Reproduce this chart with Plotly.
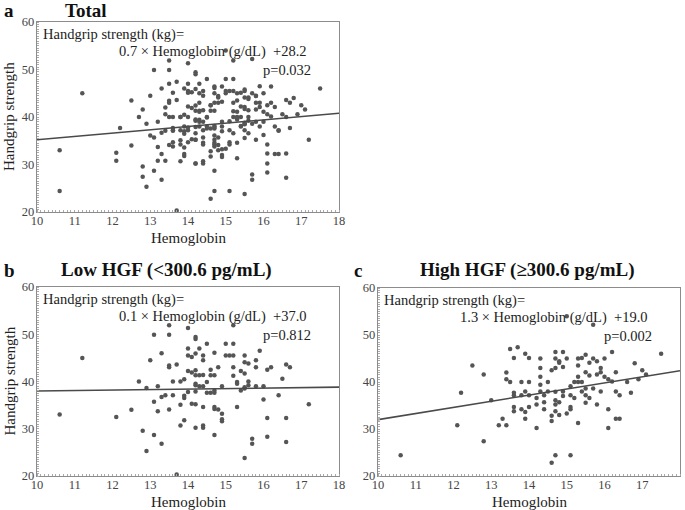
import plotly.graph_objects as go

# ---- data ----
low_hb = [10.6, 11.2, 12.1, 12.5, 12.7, 12.8, 12.9, 12.9, 13.0, 13.1, 13.1, 13.1, 13.2, 13.2,
          13.3, 13.3, 13.3, 13.4, 13.5, 13.5, 13.5, 13.5, 13.5, 13.6, 13.6, 13.7, 13.7,
          13.8, 13.8, 13.8, 13.9, 13.9, 13.9, 13.9, 14.0, 14.0, 14.0, 14.0, 14.0,
          14.1, 14.1, 14.1, 14.2, 14.2, 14.2, 14.2, 14.2, 14.2, 14.2, 14.2, 14.2, 14.2,
          14.3, 14.3, 14.3, 14.4, 14.4, 14.4, 14.4, 14.4, 14.4, 14.4, 14.5, 14.5, 14.5,
          14.6, 14.6, 14.6, 14.7, 14.7, 14.7, 14.7, 14.7, 14.7, 14.7, 14.8, 14.8,
          14.9, 14.9, 14.9, 14.9, 15.0, 15.0, 15.1, 15.2, 15.2, 15.2, 15.2, 15.2,
          15.3, 15.3, 15.3, 15.4, 15.4, 15.5, 15.5, 15.5, 15.5, 15.5, 15.5,
          15.6, 15.6, 15.6, 15.7, 15.7, 15.8, 15.8, 15.8, 15.9, 16.0, 16.0,
          16.1, 16.1, 16.1, 16.2, 16.4, 16.5, 16.6, 16.6, 16.6, 16.7, 17.2]
low_hgs = [33.0, 45.0, 32.5, 34.0, 40.0, 29.6, 38.6, 25.3, 44.5, 49.9, 35.7, 28.7, 39.0, 33.7,
           46.0, 36.7, 26.8, 37.1, 51.9, 49.9, 43.4, 43.0, 34.1, 40.0, 37.1, 43.6, 20.3,
           40.0, 35.1, 30.7, 40.5, 37.0, 36.5, 31.8, 51.3, 47.0, 45.5, 42.2, 37.8,
           41.9, 35.3, 45.2, 49.4, 49.0, 45.9, 42.4, 41.3, 39.5, 39.2, 37.9, 35.2, 30.2,
           47.0, 41.3, 39.0, 39.0, 45.5, 44.5, 41.4, 34.6, 30.7, 30.2, 48.0, 39.9, 37.6,
           42.5, 41.3, 37.6, 46.1, 41.3, 38.1, 37.6, 34.6, 34.2, 28.7, 43.0, 34.1,
           39.0, 33.2, 32.0, 31.6, 45.5, 48.0, 45.5, 51.9, 48.0, 45.5, 43.0, 41.2,
           39.9, 39.5, 34.6, 42.2, 38.1, 45.5, 44.1, 41.7, 38.8, 38.5, 23.8,
           43.8, 40.0, 39.2, 27.9, 26.8, 44.5, 43.0, 39.0, 46.5, 39.0, 36.2,
           42.5, 32.3, 28.3, 43.0, 37.1, 40.6, 43.6, 32.3, 27.2, 43.0, 35.2]

high_hb = [10.6, 12.1, 12.2, 12.5, 12.8, 12.8, 13.0, 13.2, 13.3, 13.4, 13.4, 13.4,
           13.5, 13.5, 13.6, 13.6, 13.6, 13.6, 13.6, 13.7, 13.8, 13.8, 13.8,
           13.9, 13.9, 13.9, 13.9, 14.0, 14.0, 14.0, 14.0, 14.2, 14.2, 14.2,
           14.3, 14.3, 14.3, 14.3, 14.3, 14.4, 14.4, 14.4, 14.5, 14.5,
           14.6, 14.6, 14.6, 14.6, 14.7, 14.7, 14.7, 14.7, 14.7, 14.7, 14.7, 14.7,
           14.8, 14.8, 14.8, 14.8, 14.9, 14.9, 14.9, 14.9, 15.0, 15.0, 15.0,
           15.1, 15.1, 15.1, 15.1, 15.1, 15.2, 15.2, 15.3, 15.3, 15.3, 15.3, 15.3,
           15.4, 15.4, 15.4, 15.5, 15.5, 15.5, 15.5, 15.5, 15.6, 15.6, 15.6,
           15.7, 15.7, 15.7, 15.8, 15.8, 15.8, 15.9, 15.9, 15.9, 16.0, 16.0,
           16.1, 16.1, 16.1, 16.2, 16.2, 16.3, 16.3, 16.3, 16.4, 16.4,
           16.6, 16.7, 16.8, 16.9, 17.0, 17.1, 17.5]
high_hgs = [24.4, 30.8, 37.7, 43.5, 41.6, 27.4, 36.1, 30.8, 32.2, 42.0, 40.6, 30.8,
            47.0, 40.0, 37.2, 45.1, 37.7, 34.7, 33.8, 47.4, 40.0, 37.2, 34.2,
            46.0, 38.0, 33.6, 32.2, 45.1, 40.0, 37.2, 34.7, 30.2, 36.6, 35.2,
            45.0, 43.0, 41.1, 39.4, 38.0, 37.2, 35.7, 34.2, 40.0, 38.0,
            42.5, 32.8, 31.7, 22.8, 46.4, 45.0, 43.0, 37.9, 36.1, 35.2, 33.8, 24.4,
            44.4, 44.1, 35.7, 33.0, 46.4, 43.2, 38.0, 37.0, 45.0, 33.3, 54.0,
            39.1, 37.2, 34.7, 34.2, 24.4, 36.6, 40.0, 45.0, 43.5, 41.1, 40.0, 31.3,
            40.0, 45.1, 38.0, 45.8, 42.1, 38.6, 37.2, 35.6, 36.6, 44.1, 41.4,
            52.2, 45.0, 38.6, 44.4, 41.6, 35.2, 43.0, 42.1, 38.0, 45.0, 41.1,
            40.6, 34.2, 30.2, 46.4, 40.1, 42.1, 38.0, 32.2, 37.2, 32.2,
            40.0, 37.7, 44.0, 40.6, 42.5, 41.6, 46.0]

total_hb = low_hb + high_hb
total_hgs = low_hgs + high_hgs

panel_letters = ["a", "b", "c"]
panel_titles = ["Total", "Low HGF (<300.6 pg/mL)", "High HGF (≥300.6 pg/mL)"]
slopes = [0.7, 0.1, 1.3]
intercepts = [28.2, 37.0, 19.0]
slope_text = ["0.7", "0.1", "1.3"]
intercept_text = ["+28.2", "+37.0", "+19.0"]
p_values = ["p=0.032", "p=0.812", "p=0.002"]
x_title = "Hemoglobin"
y_title = "Handgrip strength"
x_range = [10, 18]
y_range = [20, 60]
x_ticks = [10, 11, 12, 13, 14, 15, 16, 17, 18]
y_ticks = [20, 30, 40, 50, 60]

datasets = [(total_hb, total_hgs), (low_hb, low_hgs), (high_hb, high_hgs)]

W, H = 685, 510
# plot areas in pixels (left, right, top, bottom)
boxes = [(37, 339, 22, 212), (37, 339, 287, 476), (378, 680, 288, 476)]
show_ytitle = [True, True, False]

FONT = "Liberation Serif"
MARK = "#555555"
AX = "#8c8c8c"

fig = go.Figure()
annotations = []
for i, ((xs, ys), (l, r, t, b)) in enumerate(zip(datasets, boxes)):
    sx = "" if i == 0 else str(i + 1)
    fig.add_trace(go.Scatter(x=xs, y=ys, mode="markers",
                             marker=dict(color=MARK, size=4.5),
                             xaxis="x" + sx, yaxis="y" + sx, showlegend=False))
    fx = list(x_range)
    fy = [slopes[i] * v + intercepts[i] for v in fx]
    fig.add_trace(go.Scatter(x=fx, y=fy, mode="lines",
                             line=dict(color="#4a4a4a", width=1.6),
                             xaxis="x" + sx, yaxis="y" + sx, showlegend=False))
    axcommon = dict(showgrid=False, zeroline=False, showline=True, mirror=True,
                    automargin=False,
                    linecolor=AX, linewidth=1.3, ticks="",
                    tickfont=dict(family=FONT, size=12.5, color="#444"))
    fig.update_layout(**{
        "xaxis" + sx: dict(axcommon, domain=[l / W, r / W], range=x_range,
                           tickvals=x_ticks, anchor="y" + sx, ticklabelstandoff=-3,
                           minor=dict(ticks="inside", ticklen=2, dtick=0.1, tickcolor="#aaa")),
        "yaxis" + sx: dict(axcommon, domain=[1 - b / H, 1 - t / H], range=y_range,
                           tickvals=y_ticks, anchor="x" + sx, ticklabelstandoff=-1,
                           minor=dict(ticks="inside", ticklen=2, dtick=0.5, tickcolor="#aaa")),
    })
    xref, yref = "x" + sx, "y" + sx
    tf = dict(family=FONT, size=14.5, color="#222")
    annotations.append(dict(x=10.1, y=59.6, xref=xref, yref=yref, text="Handgrip strength (kg)=",
                            showarrow=False, xanchor="left", yanchor="top", font=tf))
    annotations.append(dict(x=17.2, y=55.9, xref=xref, yref=yref,
                            text=f"{slope_text[i]} × Hemoglobin (g/dL)  {intercept_text[i]}",
                            showarrow=False, xanchor="right", yanchor="top", font=tf))
    annotations.append(dict(x=17.3, y=51.9, xref=xref, yref=yref, text=p_values[i],
                            showarrow=False, xanchor="right", yanchor="top", font=tf))
    # axis titles
    titf = dict(family=FONT, size=15, color="#222")
    annotations.append(dict(x=(l + r) / 2 / W, y=1 - (b + 26) / H, xref="paper", yref="paper",
                            text=x_title, showarrow=False, xanchor="center", yanchor="middle",
                            font=titf))
    if show_ytitle[i]:
        annotations.append(dict(x=9 / W, y=1 - (t + b) / 2 / H, xref="paper", yref="paper",
                                text=y_title, showarrow=False, textangle=-90,
                                xanchor="center", yanchor="middle", font=titf))

# panel letters and titles
lt = dict(family=FONT, size=19, color="#111")
for (lx, ly, txt, anc) in [(2, 10, "<b>" + panel_letters[0] + "</b>", "left"),
                           (63, 10, "<b>" + panel_titles[0] + "</b>", "left"),
                           (2, 270, "<b>" + panel_letters[1] + "</b>", "left"),
                           (166, 270, "<b>" + panel_titles[1].replace("<", "&lt;") + "</b>", "center"),
                           (352, 270, "<b>" + panel_letters[2] + "</b>", "left"),
                           (527, 270, "<b>" + panel_titles[2] + "</b>", "center")]:
    annotations.append(dict(x=lx / W, y=1 - ly / H, xref="paper", yref="paper", text=txt,
                            showarrow=False, xanchor=anc, yanchor="middle", font=lt))

fig.update_layout(width=W, height=H, margin=dict(l=0, r=0, t=0, b=0, autoexpand=False),
                  template="none",
                  paper_bgcolor="white", plot_bgcolor="white",
                  annotations=annotations, showlegend=False)

fig.write_html("out.html", config={"displayModeBar": False},
               post_script="document.body.style.margin='0';document.body.style.overflow='hidden';")
